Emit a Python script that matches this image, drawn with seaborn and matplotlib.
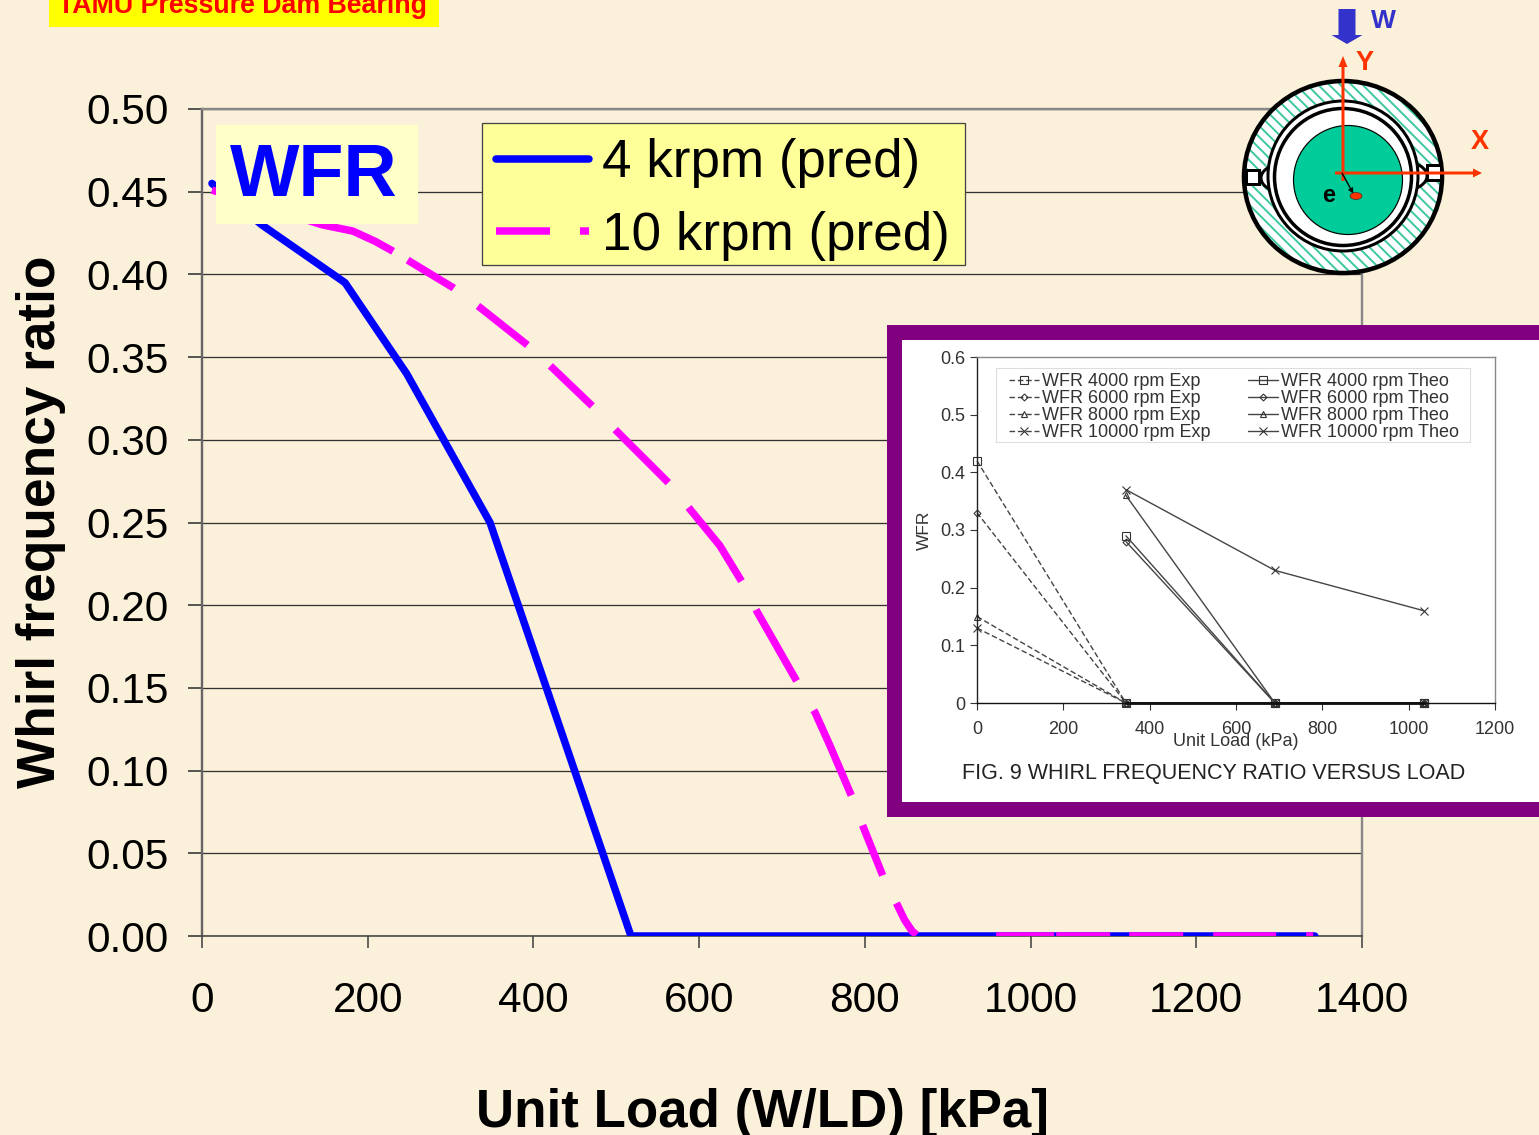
import matplotlib
matplotlib.use("Agg")
import matplotlib.pyplot as plt
from matplotlib.lines import Line2D
from matplotlib.patches import Rectangle, Ellipse, Circle, FancyArrow
import seaborn as sns

W_PX, H_PX = 1539, 1135
PT = 0.72  # points per pixel at dpi 100

# ---- main chart data ----
load_4k = [12, 72, 172.6, 247, 347.6, 517.7, 1343]
wfr_4k = [0.455, 0.430, 0.395, 0.340, 0.250, 0.0, 0.0]
load_10k = [12, 145, 154.5, 182, 209, 230.5, 247, 303, 335.5, 396, 424, 474, 501, 565, 589, 625, 653,
            670, 719, 740, 758, 784.5, 798, 822, 839, 848, 857, 864, 1343]
wfr_10k = [0.451, 0.430, 0.429, 0.4262, 0.420, 0.414, 0.409, 0.392, 0.380, 0.356, 0.343, 0.319, 0.305,
           0.273, 0.258, 0.236, 0.213, 0.196, 0.153, 0.135, 0.115, 0.084, 0.066, 0.036,
           0.019, 0.0097, 0.003, 0.0, 0.0]
x_ticks = [0, 200, 400, 600, 800, 1000, 1200, 1400]
y_ticks = [0.00, 0.05, 0.10, 0.15, 0.20, 0.25, 0.30, 0.35, 0.40, 0.45, 0.50]
series_names = ["4 krpm (pred)", "10 krpm (pred)"]

# ---- inset chart data ----
ins_exp_x = [0, 345, 690, 1035]
ins_exp = {
    "WFR 4000 rpm Exp": [0.42, 0, 0, 0],
    "WFR 6000 rpm Exp": [0.33, 0, 0, 0],
    "WFR 8000 rpm Exp": [0.15, 0, 0, 0],
    "WFR 10000 rpm Exp": [0.13, 0, 0, 0],
}
ins_theo_x = [345, 690, 1035]
ins_theo = {
    "WFR 4000 rpm Theo": [0.29, 0, 0],
    "WFR 6000 rpm Theo": [0.28, 0, 0],
    "WFR 8000 rpm Theo": [0.36, 0, 0],
    "WFR 10000 rpm Theo": [0.37, 0.23, 0.16],
}
ins_markers = ["s", "D", "^", "x"]
ins_sizes = [5.5, 3.5, 5, 5.5]
ins_zero_x = [345, 1035]
ins_zero_y = [0, 0]

# ---- style ----
BG = "#FBF0D9"
BLUE = "#0000FF"
MAGENTA = "#FF00FF"
sns.set_theme(style="white")
plt.rcParams["font.family"] = ["Liberation Sans", "DejaVu Sans"]
plt.rcParams["lines.scale_dashes"] = False
plt.rcParams["hatch.linewidth"] = 1.4

# on/off run lengths of the magenta dashes, in pixels along the curve
dash_px = [192, 17, 54, 30, 63, 31, 58, 33, 75, 32, 91, 32, 82, 34, 93, 32, 54, 31, 38, 80,
           58, 2, 54, 19, 54, 30, 63, 30, 7, 400]
dash_pt = tuple(v * PT for v in dash_px)

fig = plt.figure(figsize=(W_PX / 100, H_PX / 100), dpi=100, facecolor=BG)


def box(l, t, r, b):
    return [l / W_PX, 1 - b / H_PX, (r - l) / W_PX, (b - t) / H_PX]


# ---- main axes ----
ax = fig.add_axes(box(202, 109, 1362, 936), facecolor="none", zorder=1)
sns.lineplot(x=load_4k, y=wfr_4k, ax=ax, color=BLUE, linewidth=7.5 * PT, sort=False,
             estimator=None, errorbar=None, solid_capstyle="round", solid_joinstyle="round",
             legend=False, zorder=3)
sns.lineplot(x=load_10k, y=wfr_10k, ax=ax, color=MAGENTA, linewidth=7.5 * PT, sort=False,
             estimator=None, errorbar=None, linestyle=(0, dash_pt), dash_capstyle="butt",
             dash_joinstyle="round", legend=False, zorder=4)
ax.set_xlim(0, 1400)
ax.set_ylim(0, 0.5)
ax.set_xticks(x_ticks)
ax.set_xticklabels([str(v) for v in x_ticks])
ax.set_yticks(y_ticks)
ax.set_yticklabels([f"{v:.2f}" for v in y_ticks])
ax.tick_params(axis="y", left=True, length=14 * PT, width=1.6 * PT, color="#333333",
               labelsize=30.5, pad=19 * PT, labelcolor="black")
ax.tick_params(axis="x", bottom=True, length=12 * PT, width=1.6 * PT, color="#444444",
               labelsize=30.5, pad=33 * PT, labelcolor="black")
ax.yaxis.grid(True, color="#333333", linewidth=1.3 * PT)
ax.xaxis.grid(False)
ax.set_axisbelow(True)
for side, col, lw in [("left", "#666666", 2.4), ("top", "#888888", 2.4),
                      ("right", "#888888", 2.4), ("bottom", "#444444", 1.6)]:
    ax.spines[side].set_visible(True)
    ax.spines[side].set_color(col)
    ax.spines[side].set_linewidth(lw * PT)
ax.set_xlabel("Unit Load (W/LD) [kPa]", fontsize=38.1, fontweight="bold", color="black", va="center")
ax.xaxis.set_label_coords(0.4836, -0.2135)
ax.set_ylabel("Whirl frequency ratio", fontsize=38.3, fontweight="bold", color="black", va="center")
ax.yaxis.set_label_coords(-0.139, 0.5015)

# legend box drawn to the reference's exact extent, with the real legend on top
ax.add_patch(Rectangle((482 / W_PX, 1 - 265 / H_PX), 483 / W_PX, 142 / H_PX, transform=fig.transFigure,
                       fc="#FFFF99", ec="#444444", lw=1.3 * PT, zorder=4.5, clip_on=False))
handles = [
    Line2D([], [], color=BLUE, lw=7.5 * PT, solid_capstyle="round"),
    Line2D([], [], color=MAGENTA, lw=7.5 * PT, linestyle=(0, (54 * PT, 30 * PT, 9 * PT, 300 * PT)),
           dash_capstyle="butt"),
]
leg = ax.legend(handles, series_names, loc="upper left",
                bbox_to_anchor=(482 / W_PX, 1 - 124 / H_PX), bbox_transform=fig.transFigure,
                fontsize=38.2, frameon=False, borderaxespad=0, borderpad=0.27, handlelength=1.75,
                handletextpad=0.25, labelspacing=0.42)
for t in leg.get_texts():
    t.set_color("black")

# ---- overlay in pixel coordinates ----
ov = fig.add_axes([0, 0, 1, 1], facecolor="none", zorder=2)
ov.set_xlim(0, W_PX)
ov.set_ylim(H_PX, 0)
ov.axis("off")

# title tag
ov.add_patch(Rectangle((49, -2), 390, 29, fc="#FFFF00", ec="none"))
ov.text(243, 13, "TAMU Pressure Dam Bearing", color="#FF0000", fontsize=19.3, fontweight="bold",
        ha="center", va="baseline", clip_on=True)

# WFR tag
ov.add_patch(Rectangle((216, 125), 202, 99, fc="#FFFFC8", ec="none"))
ov.text(230, 196, "WFR", color=BLUE, fontsize=53, fontweight="bold", ha="left", va="baseline")

# bearing schematic
TEAL = "#3CC8A0"
ov.add_patch(Ellipse((1343, 177), 198, 192, fc="white", ec=TEAL, hatch="\\\\\\", lw=0))
ov.add_patch(Ellipse((1343, 177), 198, 192, fc="none", ec="black", lw=4.5 * PT))
ov.add_patch(Ellipse((1283, 178), 44, 28, fc="white", ec="black", lw=3 * PT))
ov.add_patch(Ellipse((1405, 176), 44, 28, fc="white", ec="black", lw=3 * PT))
ov.add_patch(Rectangle((1246, 170), 13, 14, fc="white", ec="black", lw=3 * PT))
ov.add_patch(Rectangle((1427, 165), 14, 15, fc="white", ec="black", lw=3 * PT))
ov.add_patch(Circle((1343, 176), 75, fc="white", ec="black", lw=3 * PT))
ov.add_patch(Circle((1343, 177), 68.5, fc="white", ec="black", lw=3.5 * PT))
ov.add_patch(Circle((1348, 180), 54.5, fc="#00CC99", ec="black", lw=1.2 * PT))
RED = "#FF3300"
ov.add_patch(FancyArrow(1343, 181, 0, -125, width=3, head_width=9, head_length=11,
                        length_includes_head=True, fc=RED, ec="none"))
ov.add_patch(FancyArrow(1335, 173, 147, 0, width=3, head_width=9, head_length=9,
                        length_includes_head=True, fc=RED, ec="none"))
ov.add_patch(FancyArrow(1347, 9, 0, 35, width=17, head_width=31, head_length=9,
                        length_includes_head=True, fc="#3333CC", ec="none"))
ov.add_patch(Ellipse((1356, 196), 12, 7, fc="#FF3300", ec="#333333", lw=0.5))
ov.add_patch(FancyArrow(1342, 173, 11, 20, width=0.8, head_width=5, head_length=5,
                        length_includes_head=True, fc="black", ec="black", lw=0.4))
ov.text(1383.5, 21, "W", color="#3333CC", fontsize=19, fontweight="bold", ha="center", va="center")
ov.text(1365, 63, "Y", color=RED, fontsize=19.5, fontweight="bold", ha="center", va="center")
ov.text(1480, 142, "X", color=RED, fontsize=19.5, fontweight="bold", ha="center", va="center")
ov.text(1329, 195, "e", color="black", fontsize=17, fontweight="bold", ha="center", va="center")

# inset frame
ov.add_patch(Rectangle((887, 325), 660, 492, fc="#800080", ec="none"))
ov.add_patch(Rectangle((902, 340), 650, 461.5, fc="white", ec="none"))
ov.text(1214, 774, "FIG. 9 WHIRL FREQUENCY RATIO VERSUS LOAD", color="#222222", fontsize=15.5,
        ha="center", va="center")

# ---- inset axes ----
ins = fig.add_axes(box(977, 357, 1495, 703), facecolor="white", zorder=3)
for (name, vals), m, s in zip(ins_exp.items(), ins_markers, ins_sizes):
    sns.lineplot(x=ins_exp_x, y=vals, ax=ins, color="#444444", linewidth=1.0, linestyle=(0, (4, 2)),
                 marker=m, markersize=s, markerfacecolor="none", markeredgecolor="#333333",
                 markeredgewidth=0.8, sort=False, estimator=None, errorbar=None, label=name,
                 clip_on=False)
for (name, vals), m, s in zip(ins_theo.items(), ins_markers, ins_sizes):
    sns.lineplot(x=ins_theo_x, y=vals, ax=ins, color="#444444", linewidth=1.0, marker=m,
                 markersize=s, markerfacecolor="none", markeredgecolor="#333333",
                 markeredgewidth=0.8, sort=False, estimator=None, errorbar=None, label=name,
                 clip_on=False)
sns.lineplot(x=ins_zero_x, y=ins_zero_y, ax=ins, color="#111111", linewidth=2.0, sort=False,
             estimator=None, errorbar=None, legend=False, clip_on=False)
ins.set_xlim(0, 1200)
ins.set_ylim(0, 0.6)
ins.set_xticks([0, 200, 400, 600, 800, 1000, 1200])
ins.set_yticks([0, 0.1, 0.2, 0.3, 0.4, 0.5, 0.6])
ins.set_yticklabels(["0", "0.1", "0.2", "0.3", "0.4", "0.5", "0.6"])
ins.tick_params(axis="both", length=5, width=0.8, color="#333333", labelsize=13, labelcolor="#333333",
                left=True, bottom=True)
ins.tick_params(axis="x", pad=8)
ins.grid(False)
for side, col in [("left", "#222222"), ("bottom", "#111111"), ("top", "#888888"), ("right", "#888888")]:
    ins.spines[side].set_visible(True)
    ins.spines[side].set_color(col)
    ins.spines[side].set_linewidth(1.0)
ins.set_xlabel("Unit Load (kPa)", fontsize=13, color="#333333", va="center")
ins.xaxis.set_label_coords((1236 - 977) / 518, -(742 - 703) / 346)
ins.set_ylabel("WFR", fontsize=12.5, color="#333333", va="center")
ins.yaxis.set_label_coords((924 - 977) / 518, (703 - 530) / 346)
ins.add_patch(Rectangle(((996 - 977) / 518, (703 - 442) / 346), 474 / 518, 74 / 346,
                        transform=ins.transAxes, fc="white", ec="#DDDDDD", lw=0.8, zorder=0.5))
il = ins.legend(ncol=2, loc="upper left", bbox_to_anchor=((1009 - 977) / 518, (703 - 373) / 346),
                fontsize=13, frameon=False, borderaxespad=0, borderpad=0, handlelength=1.65,
                handletextpad=0.2, columnspacing=2.05, labelspacing=0.0)
for t in il.get_texts():
    t.set_color("#333333")

fig.savefig("out.png", dpi=100, facecolor=BG)
